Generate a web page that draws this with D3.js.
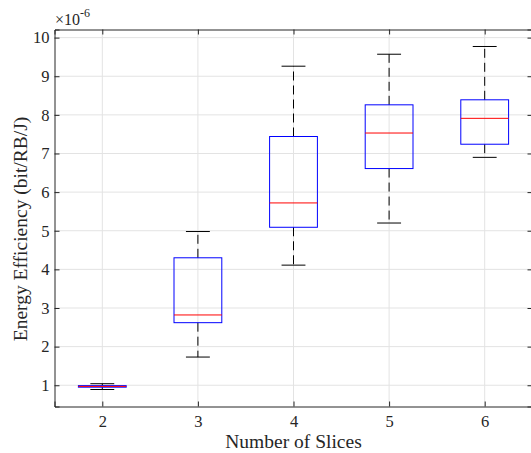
<!DOCTYPE html>
<html>
<head>
<meta charset="utf-8">
<script src="https://cdn.jsdelivr.net/npm/d3@7"></script>
<style>
  body { margin: 0; background: #fff; }
  svg text { font-family: "Liberation Serif", "Times New Roman", serif; fill: #262626; }
</style>
</head>
<body>
<svg id="chart" width="531" height="453"></svg>
<script>
// number of slices
const slices = [2, 3, 4, 5, 6];
// box stats, units of 1e-6 bit/RB/J
const lowerWhisker = [0.89, 1.73, 4.11, 5.20, 6.90];
const q1 = [0.95, 2.62, 5.09, 6.61, 7.24];
const median = [0.97, 2.82, 5.72, 7.53, 7.91];
const q3 = [0.99, 4.30, 7.44, 8.26, 8.39];
const upperWhisker = [1.04, 4.98, 9.26, 9.57, 9.77];
const yTicks = [1, 2, 3, 4, 5, 6, 7, 8, 9, 10];

const boxes = slices.map((s, i) => ({
  s, lo: lowerWhisker[i], q1: q1[i], med: median[i], q3: q3[i], hi: upperWhisker[i]
}));

const svg = d3.select("#chart");
const pL = 54.5, pR = 532.5, pT = 29.5, pB = 406.5;

let x = d3.scaleLinear().domain([1.5, 6.5]).range([pL, pR]);
let y = d3.scaleLinear().domain([0.45, 10.21]).range([pB, pT]);

const axisCol = "#262626";
const gridCol = "#e3e3e3";

// grid
const grid = svg.append("g");
grid.selectAll("line.gx").data(slices).enter().append("line")
  .attr("x1", d => x(d)).attr("x2", d => x(d))
  .attr("y1", pT).attr("y2", pB)
  .attr("stroke", gridCol).attr("stroke-width", 1);
grid.selectAll("line.gy").data(yTicks).enter().append("line")
  .attr("y1", d => y(d)).attr("y2", d => y(d))
  .attr("x1", pL).attr("x2", pR)
  .attr("stroke", gridCol).attr("stroke-width", 1);

// boxes
const bw = 0.25, cw = 0.125;
const g = svg.append("g");
let b = g.selectAll("g.box").data(boxes).enter().append("g");

b.append("line") // upper whisker
  .attr("x1", d => x(d.s)).attr("x2", d => x(d.s))
  .attr("y1", d => y(d.q3)).attr("y2", d => y(d.hi))
  .attr("stroke", "#000").attr("stroke-dasharray", "9,5");
b.append("line") // lower whisker
  .attr("x1", d => x(d.s)).attr("x2", d => x(d.s))
  .attr("y1", d => y(d.q1)).attr("y2", d => y(d.lo))
  .attr("stroke", "#000").attr("stroke-dasharray", "9,5");
b.append("line")
  .attr("x1", d => x(d.s - cw)).attr("x2", d => x(d.s + cw))
  .attr("y1", d => y(d.hi)).attr("y2", d => y(d.hi))
  .attr("stroke", "#000");
b.append("line")
  .attr("x1", d => x(d.s - cw)).attr("x2", d => x(d.s + cw))
  .attr("y1", d => y(d.lo)).attr("y2", d => y(d.lo))
  .attr("stroke", "#000");
b.append("rect")
  .attr("x", d => x(d.s - bw)).attr("width", d => x(d.s + bw) - x(d.s - bw))
  .attr("y", d => y(d.q3)).attr("height", d => y(d.q1) - y(d.q3))
  .attr("fill", "none").attr("stroke", "#0000ff");
b.append("line")
  .attr("x1", d => x(d.s - bw)).attr("x2", d => x(d.s + bw))
  .attr("y1", d => y(d.med)).attr("y2", d => y(d.med))
  .attr("stroke", "#ff0000");

// axes (ticks inside, box on)
const fs = "16.5px";
let ax = svg.append("g").attr("transform", `translate(0,${pB})`)
  .call(d3.axisBottom(x).tickValues(slices).tickSize(-5).tickPadding(9).tickFormat(d3.format("d")));
let axTop = svg.append("g").attr("transform", `translate(0,${pT})`)
  .call(d3.axisTop(x).tickValues(slices).tickSize(-5).tickFormat(""));
let ay = svg.append("g").attr("transform", `translate(${pL},0)`)
  .call(d3.axisLeft(y).tickValues(yTicks).tickSize(-5).tickPadding(5).tickFormat(d3.format("d")));
let ayR = svg.append("g").attr("transform", `translate(${pR},0)`)
  .call(d3.axisRight(y).tickValues(yTicks).tickSize(-5).tickFormat(""));

[ax, axTop, ay, ayR].forEach(a => {
  a.selectAll("path").attr("stroke", axisCol);
  a.selectAll("line").attr("stroke", axisCol);
  a.selectAll("text").style("font-size", fs).attr("fill", axisCol)
    .style("font-family", '"Liberation Serif", serif');
});

// labels
svg.append("text").attr("x", x(4)).attr("y", 448)
  .attr("text-anchor", "middle").style("font-size", "19.5px").text("Number of Slices");
svg.append("text")
  .attr("transform", `translate(27,229) rotate(-90)`)
  .attr("text-anchor", "middle").style("font-size", "19.5px")
  .text("Energy Efficiency (bit/RB/J)");

const ex = svg.append("text").attr("x", 55).attr("y", 25).style("font-size", "16px");
ex.append("tspan").text("\u00d710");
ex.append("tspan").attr("dy", -8).style("font-size", "12px").text("-6");
</script>
</body>
</html>
